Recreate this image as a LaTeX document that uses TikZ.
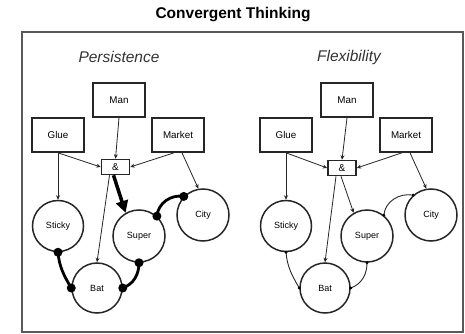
\documentclass[tikz,border=0pt]{standalone}
\usepackage{fontspec}
\setmainfont{Liberation Sans}
\usetikzlibrary{arrows.meta}

\begin{document}
\begin{tikzpicture}[x=1pt,y=-1pt,
  word/.style={draw=black!85,line width=1.6pt,minimum width=52pt,minimum height=34pt,inner sep=0pt,font=\fontsize{9.8}{11}\selectfont},
  concept/.style={circle,draw=black!85,line width=1.5pt,inner sep=0pt,font=\fontsize{9}{10}\selectfont},
  amp/.style={draw=black!85,line width=1.5pt,minimum width=28pt,minimum height=15pt,inner sep=0pt,font=\fontsize{10}{11}\selectfont},
  link/.style={black!85,line width=0.8pt,-{Stealth[length=4.5pt,width=4pt]}},
  chain/.style={line width=2.8pt},
  weak/.style={black!85,line width=0.9pt},
  heading/.style={font=\fontsize{15.5}{18}\selectfont\itshape,text=black!80}]
\useasboundingbox (0,0) rectangle (465,334);
\draw [black!65,line width=2pt] (22,32) rectangle (463,332);
\node (title) at (233,15) {\fontsize{15.5}{18}\selectfont\bfseries Convergent Thinking};

% persistence
\node [heading] (persist) at (119,57) {Persistence};
\node [word] (man1) at (119,100) {Man};
\node [word] (glue1) at (58,135) {Glue};
\node [word] (market1) at (178,135) {Market};
\node [amp] (amp1) at (115.5,167) {\&};
\node [concept,minimum size=51pt] (sticky1) at (58,226) {Sticky};
\node [concept,minimum size=50pt] (bat1) at (97,288) {Bat};
\node [concept,minimum size=52pt] (super1) at (139,236) {Super};
\node [concept,minimum size=52pt] (city1) at (203,215) {City};
\draw [link] (glue1.south) -- (sticky1.north);
\draw [link] (glue1.south) -- (amp1.west);
\draw [link] (man1.south) -- (amp1.north);
\draw [link] ([xshift=-4pt]market1.south) -- (amp1.east);
\draw [link] ([xshift=4pt]market1.south) -- (city1.100);
\draw [link] ([xshift=-6pt]amp1.south) -- (bat1.north);
\draw [line width=3.5pt,-{Triangle[length=12pt,width=12pt]}] ([xshift=-2pt]amp1.south) -- (super1.120);
\draw [chain] (sticky1.south) to[out=-85,in=120] (bat1.west);
\draw [chain] (bat1.east) to[out=20,in=-90] (super1.south);
\draw [chain] (super1.48) to[out=85,in=170] (city1.136);
\foreach \p in {sticky1.south,bat1.west,bat1.east,super1.south,super1.48,city1.136}
  \fill (\p) circle (4.5pt);

% flexibility
\node [heading] (flex) at (349,57) {Flexibility};
\node [word] (man2) at (347,100) {Man};
\node [word] (glue2) at (286,135) {Glue};
\node [word] (market2) at (406,135) {Market};
\node [amp] (amp2) at (342,168) {\&};
\node [concept,minimum size=51pt] (sticky2) at (286,226) {Sticky};
\node [concept,minimum size=50pt] (bat2) at (325,288) {Bat};
\node [concept,minimum size=52pt] (super2) at (367,236) {Super};
\node [concept,minimum size=52pt] (city2) at (431,215) {City};
\draw [link] (glue2.south) -- (sticky2.north);
\draw [link] (glue2.south) -- (amp2.west);
\draw [link] (man2.south) -- (amp2.north);
\draw [link] ([xshift=-4pt]market2.south) -- (amp2.east);
\draw [link] ([xshift=4pt]market2.south) -- (city2.100);
\draw [link] ([xshift=-6pt]amp2.south) -- (bat2.north);
\draw [link] ([xshift=-1pt]amp2.south) -- (super2.120);
\draw [weak] (sticky2.south) to[out=-85,in=120] (bat2.west);
\draw [weak] (bat2.east) to[out=20,in=-90] (super2.south);
\draw [weak] (super2.51) to[out=85,in=170] (city2.132);
\foreach \p in {sticky2.south,bat2.west,bat2.east,super2.south,super2.51,city2.132}
  \fill (\p) circle (1.6pt);
\end{tikzpicture}
\end{document}
